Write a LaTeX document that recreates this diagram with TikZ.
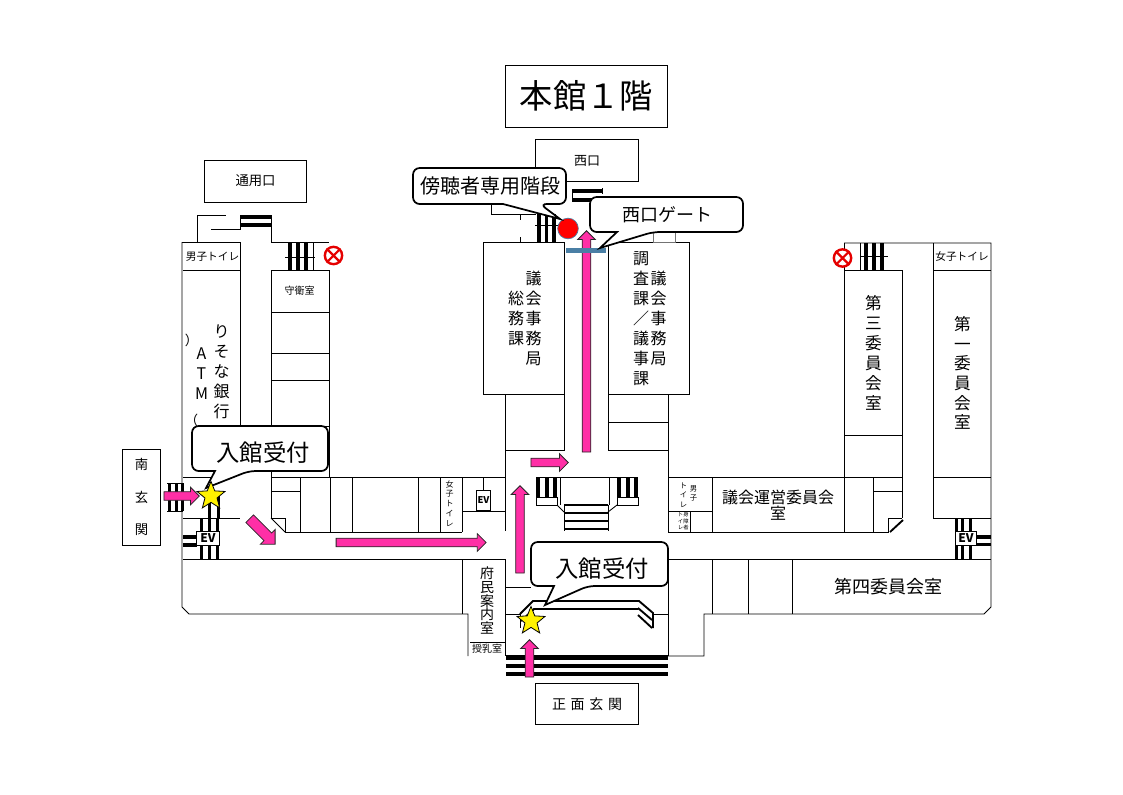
\documentclass[tikz,border=0pt]{standalone}
\usepackage{fontspec}
\setmainfont{Noto Sans CJK JP}
\usepackage{xcolor}
\usetikzlibrary{shapes,arrows,positioning,calc}
\definecolor{arrowpink}{HTML}{FF2FA6}
\definecolor{gatebar}{HTML}{4A7FA5}
\tikzset{
  wall/.style={line width=0.65pt},
  thin wall/.style={line width=0.5pt},
  tread/.style={line width=2.4pt},
  plate/.style={draw,line width=0.65pt,fill=white,inner sep=0pt},
  label/.style={inner sep=0pt,align=center},
  callout/.style={draw,fill=white,line width=1.3pt,rounded corners=5pt},
  pinkarrow/.style={single arrow,draw=black!85,fill=arrowpink,line width=0.6pt,inner xsep=0pt,inner ysep=2.9pt,
    minimum width=12.75pt,single arrow head extend=3.4pt},
  startag/.style={star,star points=5,star point ratio=2.3,draw=black,fill=yellow,line width=0.6pt,
    minimum size=22pt,inner sep=0pt},
  noentry/.style={circle,draw=red!90!black,line width=1.8pt,fill=white,minimum size=13pt,inner sep=0pt},
  evbox/.style={draw,fill=white,line width=0.6pt,inner sep=0pt,font=\fontsize{9}{9}\selectfont\bfseries}
}
\begin{document}
\begin{tikzpicture}[x=0.75pt,y=-0.75pt]
\useasboundingbox (0,0) rectangle (1123,794);
% Title and entrance plates
\node[plate,minimum width=122pt,minimum height=46.5pt,font=\fontsize{25}{25}\selectfont] (title) at (586.5,96) {本館１階};
\node[plate,minimum width=77pt,minimum height=31.5pt,font=\fontsize{10}{10}\selectfont] (tsuyo) at (255.5,181) {通用口};
\node[plate,minimum width=77.5pt,minimum height=31pt,font=\fontsize{9.75}{10}\selectfont] (nishi) at (587,160.5) {西口};
\node[plate,minimum width=77pt,minimum height=31pt,font=\fontsize{10.5}{10}\selectfont] (shomen) at (587,704) {正\hspace{3.5pt}面\hspace{3.5pt}玄\hspace{3.5pt}関};
\node[plate,align=center,minimum width=28pt,minimum height=72pt,font=\fontsize{10}{24.5}\selectfont] (minami) at (141.5,497) {南\\玄\\関};
% Left wing
\draw[wall] (182,242) -- (182,607) -- (189,614) -- (468,614) -- (468,656);
\draw[wall] (182,242) -- (240,242) -- (240,426);
\draw[wall] (183,270) -- (240,270);
\draw[wall] (197,243) -- (197,215) -- (226,215);
\draw[wall] (211,229) -- (240,229) -- (240,215);
\draw[wall] (271,215) -- (271,242) -- (329,242);
\draw[wall] (271,270) rectangle (329,426);
\draw[wall] (271,312) -- (329,312) (271,353) -- (329,353) (271,380) -- (329,380);
\draw[wall] (329,426) -- (329,477);
\draw[wall] (271,426) -- (271,518) -- (285,518) -- (285,532) -- (462,532);
\draw[wall] (271,518) -- (285,532);
\draw[wall] (183,477) -- (218,477);
\draw[wall] (271,477) -- (505,477);
\draw[wall] (271,491) -- (300,491);
\foreach \x in {300,330,352,418,440,462} \draw[wall] (\x,477) -- (\x,532);
\draw[wall] (183,518) -- (240,518);
\draw[wall] (183,559) -- (505,559);
\draw[wall] (462,559) -- (462,614);
\draw[wall] (462,511) -- (505,511);
\draw[wall] (483,477) -- (483,490);
\draw[wall] (470,642) -- (505,642);
% Centre block
\draw[wall] (483,242) rectangle (564,394);
\draw[wall] (608,242) rectangle (689,394);
\draw[wall] (505,394) -- (505,531) (505,559) -- (505,656);
\draw[wall] (564,394) -- (564,450) -- (505,450);
\draw[wall] (608,394) -- (608,450) -- (668,450);
\draw[wall] (608,422) -- (668,422);
\draw[wall] (668,394) -- (668,532);
\draw[wall] (668,559) -- (668,656);
\draw[wall] (505,587) -- (531,587);
\draw[wall] (491,204) -- (491,214) -- (536,214);
\draw[wall] (520,214) -- (520,220) (520,237) -- (520,242);
\draw[thin wall,draw=black!55] (653,232) rectangle (675,242);
% Front hall stairs
\draw[wall] (536,477) -- (638,477);
\draw[wall] (536,497) rectangle (557,505);
\draw[wall] (617,497) rectangle (638,505);
\draw[wall] (560,477) -- (560,505) (609,477) -- (609,505);
\draw[wall] (557,505) -- (564,512) (617,505) -- (608,512);
\draw[wall] (564,505) -- (564,531) (608,505) -- (608,531);
\foreach \y in {505,513,521,529} \draw[wall,line width=1.4pt] (564,\y) -- (608,\y);
\foreach \x in {536,544.5,553,617,625.5,634} \fill (\x,477) rectangle +(4,20);
% Reception counter
\draw[wall,line width=1.4pt] (520,614) -- (533,601) -- (639,601) -- (653,613) -- (653,628);
\draw[wall,line width=1.4pt] (521,621) -- (534,609) -- (638,609) (638,608) -- (652,620) (638,615) -- (652,628);
\draw[wall] (505,614) -- (520,614) -- (520,628);
\draw[wall] (653,614) -- (668,614);
% Right side of the hall
\draw[wall] (668,559) -- (991,559);
\draw[wall] (668,656) -- (704,656) -- (704,614) -- (984,614) -- (991,607) -- (991,243) -- (844,243);
\foreach \x in {712,748,792} \draw[wall] (\x,559) -- (\x,614);
\draw[wall] (844,243) -- (844,532);
\draw[wall] (844,270) -- (902,270) -- (902,518);
\draw[wall] (845,435) -- (902,435);
\draw[wall] (668,477) -- (902,477);
\draw[wall] (873,477) -- (873,532) (873,491) -- (902,491);
\draw[wall] (712,477) -- (712,532);
\draw[wall] (668,511) -- (712,511) (690,511) -- (690,532);
\draw[wall] (668,532) -- (888,532) -- (888,518) -- (902,518);
\draw[wall,line width=1.4pt] (903,520) -- (890,532);
\draw[wall] (933,243) -- (933,518) -- (991,518);
\draw[wall] (933,270) -- (991,270);
\draw[wall] (933,477) -- (991,477);
% Stair stripes
\foreach \x in {288,296,304} \fill (\x,243) rectangle +(4,27);
\draw[thin wall] (313,243) -- (313,270) (285,257) -- (315,257);
\foreach \x in {864,872,880} \fill (\x,243) rectangle +(3.5,27);
\draw[thin wall] (860,243) -- (860,270) (860,256) -- (888,256);
\foreach \x in {537,544.5,552} \fill (\x,214) rectangle +(3.5,28);
\draw[thin wall] (535,225) -- (565,225);
\draw[tread] (240,217) -- (271,217) (240,225) -- (271,225);
\draw[tread] (572,191) -- (602,191) (572,200) -- (592,200);
\draw[thin wall] (602,188) -- (602,194) (572,191) -- (572,200);
\foreach \x in {168,175,181} \fill (\x,483) rectangle +(2.5,28);
\draw[wall] (167,483) -- (183,483) (167,511) -- (183,511);
\foreach \y in {655,663.5,671.5} \fill (505.5,\y) rectangle (668,\y+4.5);
% EV shafts
\foreach \x in {200,207.5,216} \fill (\x,518) rectangle +(3,41);
\foreach \x in {208,216.5} \fill (\x,491) rectangle +(3,27);
\draw[tread] (183,537) -- (197,537) (183,545) -- (197,545);
\foreach \x in {955,960.5,968.5} \fill (\x,519) rectangle +(3,40);
\draw[tread] (977,537) -- (991,537) (977,544.5) -- (991,544.5);
\node[evbox,minimum width=17pt,minimum height=10pt] (evleft) at (208,538.5) {EV};
\node[evbox,minimum width=16pt,minimum height=10pt] (evright) at (966,538.5) {EV};
\node[evbox,minimum width=10.5pt,minimum height=15pt,font=\fontsize{7}{7}\selectfont\bfseries] (evcentre) at (483.5,500) {EV};
% Room labels
\node[label,font=\fontsize{8}{8}\selectfont] (wcmen) at (212.5,256.5) {男子トイレ};
\node[label,font=\fontsize{8}{8}\selectfont] (wcwomen) at (962,256.5) {女子トイレ};
\node[label,font=\fontsize{7.5}{8}\selectfont] (guard) at (299.5,290.5) {守衛室};
\node[label,font=\fontsize{12}{15}\selectfont] (resona) at (221.5,372) {り\\そ\\な\\銀\\行};
\node[label,font=\fontsize{12}{15}\selectfont] (atm) at (201.5,374) {A\\T\\M};
\node[label,font=\fontsize{10}{10}\selectfont] (parenr) at (191.5,340) {）};
\node[label,font=\fontsize{10}{10}\selectfont] (parenl) at (191.5,420) {（};
\node[label,font=\fontsize{12}{15}\selectfont] (gikai) at (533.5,318.5) {議\\会\\事\\務\\局};
\node[label,font=\fontsize{12}{15}\selectfont] (somu) at (516,318.5) {総\\務\\課};
\node[label,font=\fontsize{12}{15}\selectfont] (gikair) at (658.5,318.5) {議\\会\\事\\務\\局};
\node[label,font=\fontsize{12}{15}\selectfont] (chosa) at (641,318.5) {調\\査\\課\\／\\議\\事\\課};
\node[label,font=\fontsize{12.5}{15}\selectfont] (dai3) at (873.5,353) {第\\三\\委\\員\\会\\室};
\node[label,font=\fontsize{12.5}{14.7}\selectfont] (dai1) at (962.5,373) {第\\一\\委\\員\\会\\室};
\node[label,font=\fontsize{12}{12.5}\selectfont] (unei) at (778,505) {議会運営委員会\\室};
\node[label,font=\fontsize{13.5}{14}\selectfont] (dai4) at (888,587) {第四委員会室};
\node[label,font=\fontsize{10.5}{10.3}\selectfont] (fumin) at (487,600.5) {府\\民\\案\\内\\室};
\node[label,font=\fontsize{7.5}{8}\selectfont] (junyu) at (487,648.5) {授乳室};
\node[label,font=\fontsize{6}{7.4}\selectfont] (wcw2) at (449.5,503.5) {女\\子\\ト\\イ\\レ};
\node[label,font=\fontsize{5.5}{6.5}\selectfont] (wcm2a) at (693.5,493.5) {男\\子};
\node[label,font=\fontsize{5.5}{7}\selectfont] (wcm2b) at (683.5,495) {ト\\イ\\レ};
\node[label,font=\fontsize{4}{5}\selectfont] (wcx2a) at (680.5,521) {ト\\イ\\レ};
\node[label,font=\fontsize{4}{5}\selectfont] (wcx2b) at (686,521) {身\\障\\者};
% Gate and stairs marker
\node[pinkarrow,minimum height=166pt,rotate=90] (gatearrow) at (586.5,343.5) {};
\fill[gatebar] (566,247.5) rectangle (606,253);
\node[circle,draw=gatebar,fill=red,line width=0.5pt,minimum size=15.5pt,inner sep=0pt] (reddot) at (568,228.5) {};
% Guide arrows
\node[pinkarrow,minimum height=26.5pt] (southarrow) at (179.5,496) {};
\node[pinkarrow,minimum height=27pt,minimum width=15pt,inner ysep=3.75pt,single arrow head extend=3.75pt,rotate=-45] (diagarrow) at (260.5,529.5) {};
\node[pinkarrow,minimum height=112.5pt] (corridor) at (409,542.5) {};
\node[pinkarrow,minimum height=65.5pt,rotate=90] (hallup) at (520,531.5) {};
\node[pinkarrow,minimum height=28pt] (hallright) at (547.5,462.5) {};
\node[pinkarrow,minimum height=28pt,rotate=90] (frontup) at (529.5,660.5) {};
% Callouts
\draw[callout] (215,471) -- (192,471) -- (192,426) -- (328,426) -- (328,471) -- (249,471) [sharp corners] -- (206,488) -- cycle;
\node[label,font=\fontsize{17.5}{18}\selectfont] (uketsuke1) at (263,453) {入館受付};
\draw[callout] (554,586) -- (531,586) -- (531,542) -- (668,542) -- (668,586) -- (588,586) [sharp corners] -- (545,605) -- cycle;
\node[label,font=\fontsize{17.5}{18}\selectfont] (uketsuke2) at (602,569) {入館受付};
\draw[callout] (503,204) -- (413,204) -- (413,168) -- (566,168) -- (566,204) -- (540,204) [sharp corners] -- (560,219) -- cycle;
\node[label,font=\fontsize{15}{15}\selectfont] (bocho) at (490,186) {傍聴者専用階段};
\draw[callout] (617,232) -- (590,232) -- (590,197) -- (743,197) -- (743,232) -- (653,232) [sharp corners] -- (600,248) -- cycle;
\node[label,font=\fontsize{13.5}{14}\selectfont] (gate) at (667,215) {西口ゲート};
% Stars
\node[startag] (star1) at (211,496) {};
\node[startag] (star2) at (531,621) {};
% No entry marks
\node[noentry] (noleft) at (333.5,255.5) {};
\draw[red!90!black,line width=1.6pt] (noleft.north west) -- (noleft.south east) (noleft.north east) -- (noleft.south west);
\node[noentry] (noright) at (842.5,258) {};
\draw[red!90!black,line width=1.6pt] (noright.north west) -- (noright.south east) (noright.north east) -- (noright.south west);
\end{tikzpicture}
\end{document}
